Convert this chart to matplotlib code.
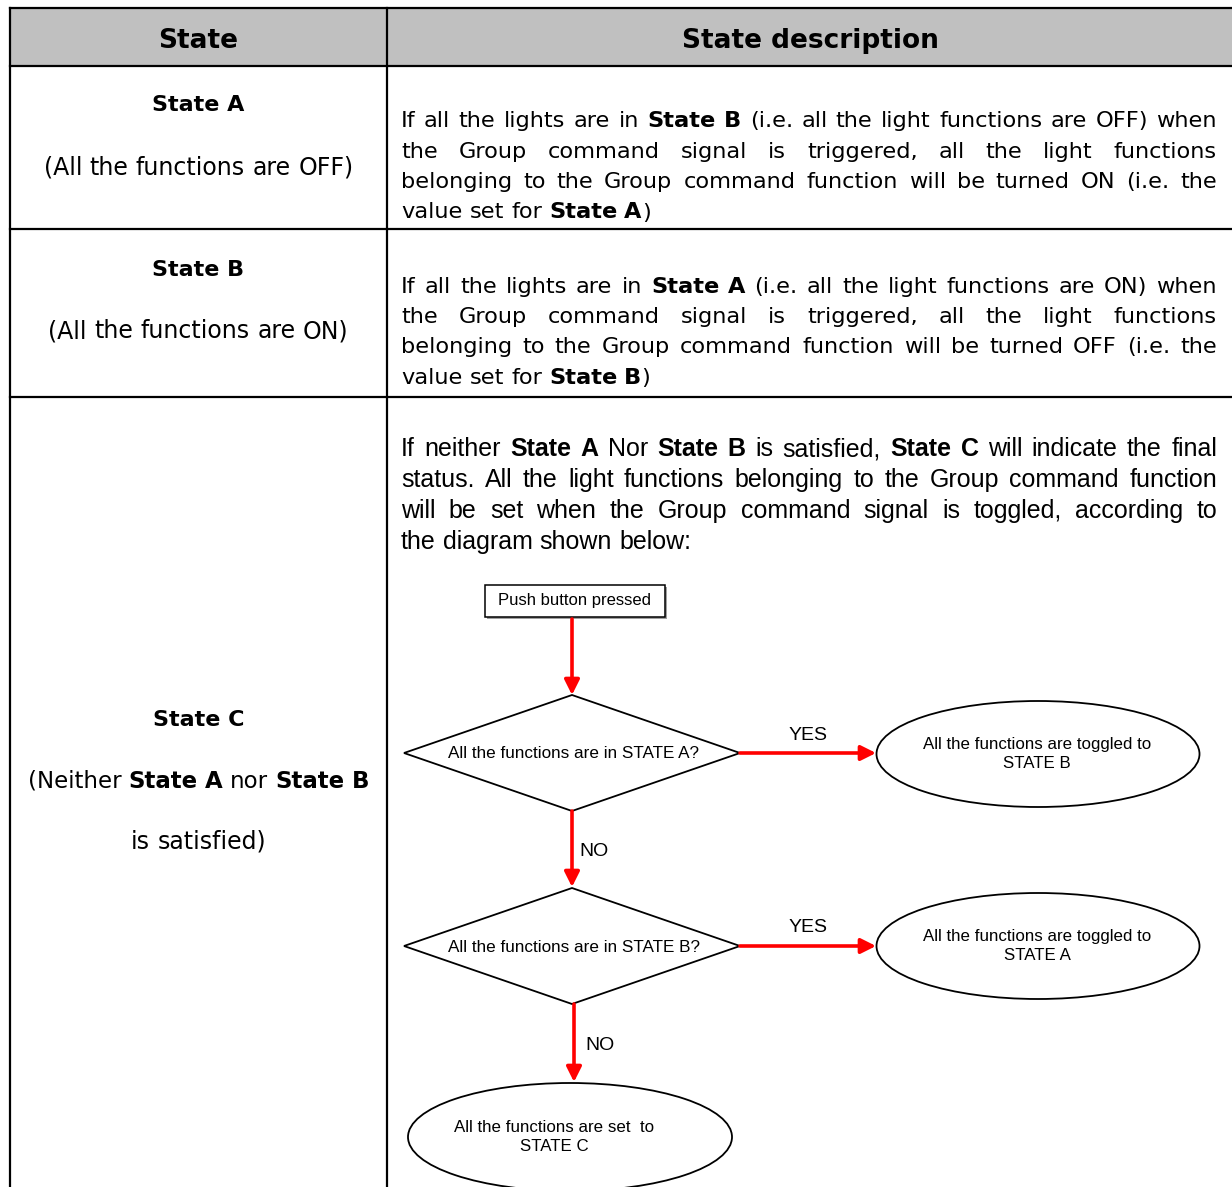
import matplotlib.pyplot as plt
from matplotlib.patches import Rectangle, Ellipse, Polygon
from matplotlib import font_manager

# table text (words between * are bold)
headers = ['State', 'State description']
states = ['State A', 'State B', 'State C']
state_notes = [
    ['(All the functions are OFF)'],
    ['(All the functions are ON)'],
    ['(Neither *State A* nor *State B*', 'is satisfied)'],
]
desc_a = [
    'If all the lights are in *State B* (i.e. all the light functions are OFF) when',
    'the Group command signal is triggered, all the light functions',
    'belonging to the Group command function will be turned ON (i.e. the',
    'value set for *State A*)',
]
desc_b = [
    'If all the lights are in *State A* (i.e. all the light functions are ON) when',
    'the Group command signal is triggered, all the light functions',
    'belonging to the Group command function will be turned OFF (i.e. the',
    'value set for *State B*)',
]
desc_c = [
    'If neither *State A* Nor *State B* is satisfied, *State C* will indicate the final',
    'status. All the light functions belonging to the Group command function',
    'will be set when the Group command signal is toggled, according to',
    'the diagram shown below:',
]

# flowchart text
start_label = 'Push button pressed'
questions = ['All the functions are in STATE A?', 'All the functions are in STATE B?']
outcomes = ['All the functions are toggled to\nSTATE B', 'All the functions are toggled to\nSTATE A']
final_label = 'All the functions are set  to\nSTATE C'
yes_label = 'YES'
no_label = 'NO'


def has_font(name):
    try:
        font_manager.findfont(name, fallback_to_default=False)
        return True
    except ValueError:
        return False


WIDE = 'DejaVu Sans'
ARIAL = 'Liberation Sans'
NARROW = 'Liberation Sans Narrow' if has_font('Liberation Sans Narrow') else ARIAL
plt.rcParams['font.family'] = [ARIAL, 'DejaVu Sans']

W, H = 1232, 1187
fig = plt.figure(figsize=(W / 100, H / 100), dpi=100)
ax = fig.add_axes([0, 0, 1, 1])
ax.set_xlim(0, W)
ax.set_ylim(H, 0)
ax.axis('off')
renderer = fig.canvas.get_renderer()


def text_w(s, size, bold, family):
    t = ax.text(0, 0, s, fontsize=size, fontweight='bold' if bold else 'normal', family=family)
    w = t.get_window_extent(renderer).width
    t.remove()
    return w


def split_words(line):
    words = []
    cur = []
    buf = ''
    bold = False
    for ch in line:
        if ch == '*':
            if buf:
                cur.append((buf, bold))
                buf = ''
            bold = not bold
        elif ch == ' ':
            if buf:
                cur.append((buf, bold))
                buf = ''
            if cur:
                words.append(cur)
                cur = []
        else:
            buf += ch
    if buf:
        cur.append((buf, bold))
    if cur:
        words.append(cur)
    return words


def draw_line(line, y, size, family, left=None, width=None, center=None):
    words = split_words(line)
    widths = [[text_w(s, size, b, family) for s, b in wd] for wd in words]
    total = sum(sum(w) for w in widths)
    space = text_w('a a', size, False, family) - text_w('aa', size, False, family)
    if width is not None and len(words) > 1:
        gap = (width - total) / (len(words) - 1)
    else:
        gap = space
    if center is not None:
        x = center - (total + gap * (len(words) - 1)) / 2
    else:
        x = left
    for wd, ws in zip(words, widths):
        for (s, b), w in zip(wd, ws):
            ax.text(x, y, s, fontsize=size, fontweight='bold' if b else 'normal',
                    family=family, ha='left', va='baseline')
            x += w
        x += gap


# table grid
x_left, x_mid, x_right = 10, 387, 1234
y_top, y_head, y_a, y_b = 8, 66, 229, 397
ax.add_patch(Rectangle((x_left, y_top), x_right - x_left, y_head - y_top,
                       fc='#c0c0c0', ec='none'))
for yy in [y_top, y_head, y_a, y_b]:
    ax.plot([x_left, x_right], [yy, yy], color='black', lw=1.6, solid_capstyle='projecting')
for xx in [x_left, x_mid]:
    ax.plot([xx, xx], [y_top, H + 5], color='black', lw=1.6, solid_capstyle='projecting')

# header
ax.text((x_left + x_mid) / 2, 48, headers[0], fontsize=19, fontweight='bold',
        family=WIDE, ha='center', va='baseline')
ax.text(810, 48, headers[1], fontsize=19, fontweight='bold',
        family=WIDE, ha='center', va='baseline')

# left column
col1_c = (x_left + x_mid) / 2
state_y = [111, 276, 726]
note_y = [[175], [338], [788, 849]]
note_size = [[17], [17], [16.5, 17]]
for name, sy, notes, ny, ns in zip(states, state_y, state_notes, note_y, note_size):
    ax.text(col1_c, sy, name, fontsize=16, fontweight='bold', family=WIDE,
            ha='center', va='baseline')
    for line, y, s in zip(notes, ny, ns):
        draw_line(line, y, s, WIDE, center=col1_c)

# right column descriptions
d_left, d_right = 401, 1217
for lines, y0, step, size, fam in [(desc_a, 127, 30.5, 16.2, WIDE),
                                   (desc_b, 293, 30.2, 16.2, WIDE),
                                   (desc_c, 456, 31, 18, NARROW)]:
    for i, line in enumerate(lines):
        last = i == len(lines) - 1
        draw_line(line, y0 + i * step, size, fam, left=d_left,
                  width=None if last else d_right - d_left)

# flowchart
red = '#ff0000'


def arrow(x1, y1, x2, y2):
    ax.annotate('', xy=(x2, y2), xytext=(x1, y1),
                arrowprops=dict(arrowstyle='-|>,head_length=0.6,head_width=0.3',
                                color=red, lw=2.6, shrinkA=0, shrinkB=0,
                                mutation_scale=15))


ax.add_patch(Rectangle((487, 587), 180, 32, fc='#a0a0a0', ec='none'))
ax.add_patch(Rectangle((485, 585), 180, 32, fc='white', ec='black', lw=1.1))
ax.text(575, 601, start_label, fontsize=12, ha='center', va='center')
arrow(572, 619, 572, 695)

dia_cx, dia_hw = 572, 168
dia_cy = [753, 946]
dia_hh = [58, 58]
out_cy = [754, 946]
for q, cy, hh, o, oy in zip(questions, dia_cy, dia_hh, outcomes, out_cy):
    ax.add_patch(Polygon([(dia_cx, cy - hh), (dia_cx + dia_hw, cy),
                          (dia_cx, cy + hh), (dia_cx - dia_hw, cy)],
                         closed=True, fc='white', ec='black', lw=1.3))
    ax.text(dia_cx + 2, cy + 1, q, fontsize=12.3, ha='center', va='center')
    arrow(dia_cx + dia_hw, cy, 876, cy)
    ax.text(808, cy - 18, yes_label, fontsize=14, ha='center', va='center')
    ax.add_patch(Ellipse((1038, oy), 323, 106, fc='white', ec='black', lw=1.3))
    ax.text(1037, oy, o, fontsize=12.2, ha='center', va='center', linespacing=1.35)

arrow(572, 811, 572, 887)
ax.text(579, 852, no_label, fontsize=14, ha='left', va='center')
arrow(574, 1004, 574, 1082)
ax.text(585, 1045, no_label, fontsize=14, ha='left', va='center')

ax.add_patch(Ellipse((570, 1137), 324, 108, fc='white', ec='black', lw=1.3))
ax.text(554, 1137, final_label, fontsize=12.2, ha='center', va='center', linespacing=1.35)

fig.savefig('out.png', dpi=100, facecolor='white')
